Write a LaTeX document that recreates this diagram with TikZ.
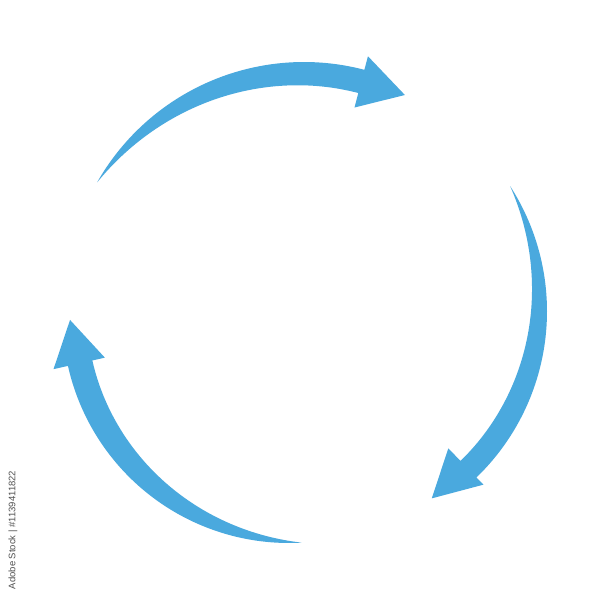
\documentclass[tikz,border=0pt]{standalone}
\usepackage{fontspec}
\setmainfont{Liberation Sans}
\definecolor{cycleblue}{RGB}{74,169,222}
\definecolor{creditgray}{RGB}{80,80,80}
\tikzset{
  arrowfill/.style={fill=cycleblue},
  credittext/.style={text=creditgray, font=\fontsize{9.5}{11}\selectfont, inner sep=0pt}
}
% #1 R, #2 W, #3 tail angle, #4 neck angle, #5 head outer r, #6 head inner r, #7 tip angle, #8 tip r
\newcommand{\cyclearrow}[8]{%
  \fill[arrowfill] plot[domain=#3:#4,samples=90] ({#1*cos(\x)},{#1*sin(\x)})
    -- (#4:#5) -- (#7:#8) -- (#4:#6)
    -- plot[domain=#4:#3,samples=90]
       ({(#1-#2*(1-pow(max(1-(\x-(#3))/((#4)-(#3)),0.0001),2.2)))*cos(\x)},
        {(#1-#2*(1-pow(max(1-(\x-(#3))/((#4)-(#3)),0.0001),2.2)))*sin(\x)})
    -- cycle;}
\begin{document}
\begin{tikzpicture}[x=1pt,y=-1pt]
  \useasboundingbox (0,0) rectangle (600,600);
  \fill[white] (0,0) rectangle (600,600);
  % top arrow
  \begin{scope}[shift={(304,300)}]
    \cyclearrow{238}{24}{-150.4}{-75.3}{252}{199}{-63.8}{228.5}
  \end{scope}
  % right arrow
  \begin{scope}[shift={(316,311.3)}]
    \cyclearrow{231}{23}{-32.8}{46}{241}{190.5}{58.25}{220}
  \end{scope}
  % left arrow
  \begin{scope}[shift={(289,316.5)}]
    \cyclearrow{226.5}{25}{86.8}{167.4}{241.3}{188.7}{179.1}{219}
  \end{scope}
  \node[credittext, rotate=90] (credit) at (13,530) {Adobe Stock | \#1139411822};
\end{tikzpicture}
\end{document}
